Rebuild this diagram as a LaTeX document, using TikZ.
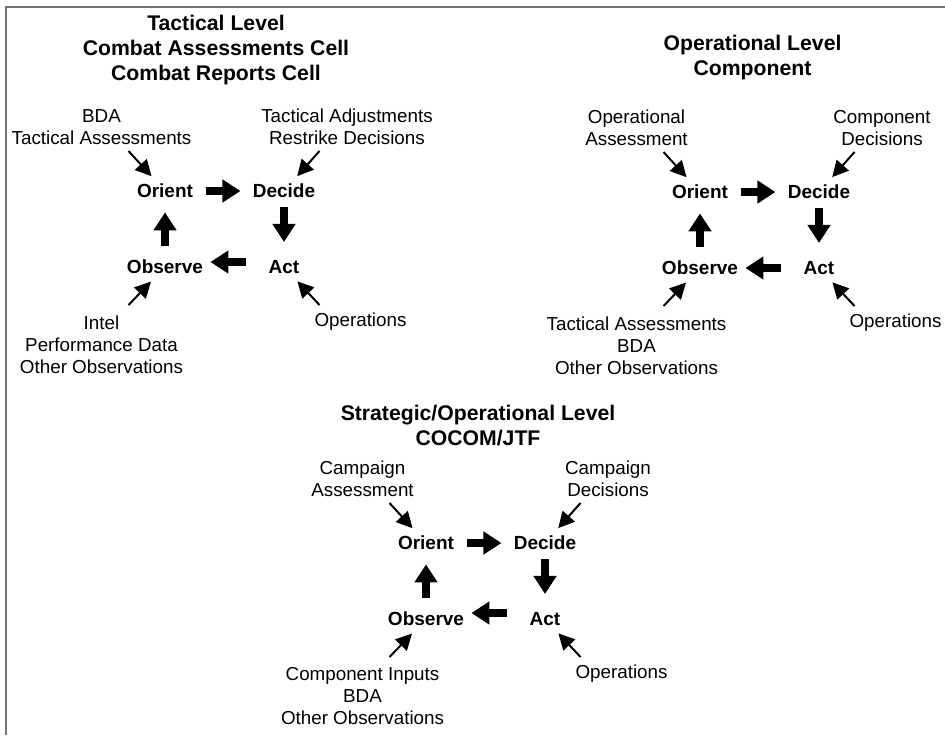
\documentclass[tikz,border=0pt]{standalone}
\usepackage{fontspec}
\setmainfont{Liberation Sans}
\usetikzlibrary{arrows.meta}
\begin{document}
\begin{tikzpicture}[x=0.5pt,y=-0.5pt,
    phase/.style={font=\fontsize{9.5}{11}\selectfont\bfseries, inner sep=0pt},
    feed/.style={font=\fontsize{9.4}{11}\selectfont, align=center, inner sep=0pt},
    titletext/.style={font=\fontsize{10.6}{12.5}\selectfont\bfseries, align=center, inner sep=0pt, anchor=north},
    bigarrow/.style={line width=4pt, -{Triangle[length=9pt,width=11pt]}},
    inflow/.style={line width=1pt, -{Triangle[length=8pt,width=8pt]}, shorten >=5pt}]
    \useasboundingbox (0,0) rectangle (945,735);
    \draw[line width=1pt, black!55] (6,735) -- (6,7) -- (945,7);
    % titles
    \node[titletext] (ttl1) at (216,15) {Tactical Level\\Combat Assessments Cell\\Combat Reports Cell};
    \node[titletext] (ttl2) at (752.5,35) {Operational Level\\Component};
    \node[titletext] (ttl3) at (478,405) {Strategic/Operational Level\\COCOM/JTF};
    % tactical
    \begin{scope}[shift={(165,191)}]
        \node[phase] (or1) at (0,0) {Orient};
        \node[phase] (de1) at (119,0) {Decide};
        \node[phase] (ob1) at (0,76) {Observe};
        \node[phase] (ac1) at (119,76) {Act};
        \node[feed] (tl1) at (-63.5,-64) {BDA\\Tactical Assessments};
        \node[feed] (tr1) at (182,-64) {Tactical Adjustments\\Restrike Decisions};
        \node[feed] (bl1) at (-63.5,153.5) {Intel\\Performance Data\\Other Observations};
        \node[feed] (br1) at (195.5,131) {Operations};
        \coordinate (tlt1) at (-36.5,-40);
        \coordinate (trt1) at (154.5,-40);
        \coordinate (blt1) at (-36.5,114);
        \coordinate (brt1) at (154.5,114);
        \draw[bigarrow, shorten <=6.5pt, shorten >=6pt] (or1) -- (de1);
        \draw[bigarrow, shorten <=4.5pt, shorten >=9pt] (de1) -- (ac1);
        \draw[bigarrow, shorten <=11.3pt, shorten >=3.5pt] ([yshift=2.5pt]ac1.west) -- ([yshift=2.5pt]ob1.east);
        \draw[bigarrow, shorten <=7pt, shorten >=7pt] (ob1) -- (or1);
        \draw[inflow] (tlt1) -- (or1);
        \draw[inflow] (trt1) -- (de1);
        \draw[inflow] (blt1) -- (ob1);
        \draw[inflow] (brt1) -- (ac1);
    \end{scope}
    % operational
    \begin{scope}[shift={(700,192)}]
        \node[phase] (or2) at (0,0) {Orient};
        \node[phase] (de2) at (119,0) {Decide};
        \node[phase] (ob2) at (0,76) {Observe};
        \node[phase] (ac2) at (119,76) {Act};
        \node[feed] (tl2) at (-63.5,-64) {Operational\\Assessment};
        \node[feed] (tr2) at (182,-64) {Component\\Decisions};
        \node[feed] (bl2) at (-63.5,153.5) {Tactical Assessments\\BDA\\Other Observations};
        \node[feed] (br2) at (195.5,131) {Operations};
        \coordinate (tlt2) at (-36.5,-40);
        \coordinate (trt2) at (154.5,-40);
        \coordinate (blt2) at (-36.5,114);
        \coordinate (brt2) at (154.5,114);
        \draw[bigarrow, shorten <=6.5pt, shorten >=6pt] (or2) -- (de2);
        \draw[bigarrow, shorten <=4.5pt, shorten >=9pt] (de2) -- (ac2);
        \draw[bigarrow, shorten <=11.3pt, shorten >=3.5pt] (ac2) -- (ob2);
        \draw[bigarrow, shorten <=7pt, shorten >=7pt] (ob2) -- (or2);
        \draw[inflow] (tlt2) -- (or2);
        \draw[inflow] (trt2) -- (de2);
        \draw[inflow] (blt2) -- (ob2);
        \draw[inflow] (brt2) -- (ac2);
    \end{scope}
    % strategic
    \begin{scope}[shift={(426,543)}]
        \node[phase] (or3) at (0,0) {Orient};
        \node[phase] (de3) at (119,0) {Decide};
        \node[phase] (ob3) at (0,76) {Observe};
        \node[phase] (ac3) at (119,76) {Act};
        \node[feed] (tl3) at (-63.5,-64) {Campaign\\Assessment};
        \node[feed] (tr3) at (182,-64) {Campaign\\Decisions};
        \node[feed] (bl3) at (-63.5,153.5) {Component Inputs\\BDA\\Other Observations};
        \node[feed] (br3) at (195.5,131) {Operations};
        \coordinate (tlt3) at (-36.5,-40);
        \coordinate (trt3) at (154.5,-40);
        \coordinate (blt3) at (-36.5,114);
        \coordinate (brt3) at (154.5,114);
        \draw[bigarrow, shorten <=6.5pt, shorten >=6pt] (or3) -- (de3);
        \draw[bigarrow, shorten <=4.5pt, shorten >=9pt] (de3) -- (ac3);
        \draw[bigarrow, shorten <=11.3pt, shorten >=3.5pt] ([yshift=3pt]ac3.west) -- ([yshift=3pt]ob3.east);
        \draw[bigarrow, shorten <=7pt, shorten >=7pt] (ob3) -- (or3);
        \draw[inflow] (tlt3) -- (or3);
        \draw[inflow] (trt3) -- (de3);
        \draw[inflow] (blt3) -- (ob3);
        \draw[inflow] (brt3) -- (ac3);
    \end{scope}
\end{tikzpicture}
\end{document}
